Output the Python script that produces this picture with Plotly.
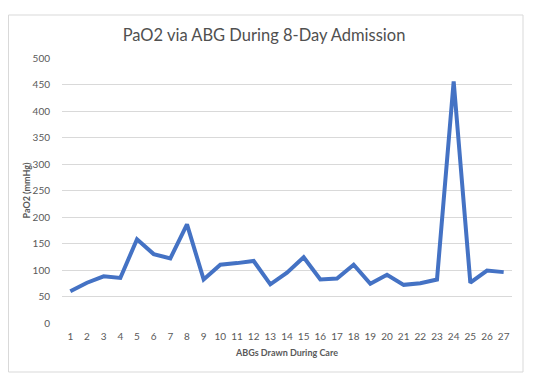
import plotly.graph_objects as go

abg_number = list(range(1, 28))
pao2_mmhg = [60, 76, 88, 85, 158, 130, 122, 186, 82, 110, 113, 117, 73,
             95, 124, 82, 84, 110, 74, 91, 72, 75, 82, 456, 76, 99, 96]
y_ticks = [0, 50, 100, 150, 200, 250, 300, 350, 400, 450, 500]

grey = "#595959"
grid = "#d9d9d9"
font_family = "Lato, Liberation Sans, Arial, sans-serif"

W, H = 528, 372
L, R, T, B = 54, 24, 50, 57
pw, ph = W - L - R, H - T - B

fig = go.Figure()
fig.add_trace(go.Scatter(
    x=abg_number, y=pao2_mmhg, mode="lines",
    line=dict(color="#4472C4", width=4),
    hoverinfo="x+y", showlegend=False,
))

fig.update_layout(
    width=W, height=H,
    margin=dict(l=L, r=R, t=T, b=B),
    paper_bgcolor="white", plot_bgcolor="white",
    font=dict(family=font_family, color=grey),
    title=dict(text="PaO2 via ABG During 8-Day Admission",
               x=256/W, xanchor="center", y=1 - 27/H, yanchor="middle",
               font=dict(size=16.5, color="#505050", family=font_family)),
    xaxis=dict(
        range=[0.5, 27.5], tickmode="array", tickvals=abg_number,
        ticktext=[str(v) for v in abg_number],
        showgrid=False, zeroline=False, showline=False,
        tickfont=dict(size=10, color=grey),
        ticklabelstandoff=6,
        title=dict(text="<b>ABGs Drawn During Care</b>", standoff=8,
                   font=dict(size=9, color=grey)),
        automargin=False,
    ),
    yaxis=dict(
        range=[0, 500], tickmode="array", tickvals=y_ticks,
        showgrid=True, gridcolor=grid, gridwidth=1,
        zeroline=False, showline=False,
        tickfont=dict(size=10, color=grey),
        ticklabelstandoff=11,
        title=dict(text="<b>PaO2 (mmHg)</b>", standoff=0,
                   font=dict(size=9, color=grey)),
        automargin=False,
    ),
    shapes=[dict(type="rect", xref="paper", yref="paper",
                 x0=(0.5 - L) / pw, x1=(515 - L) / pw,
                 y0=(H - B - 364) / ph, y1=(H - B - 7) / ph,
                 line=dict(color=grid, width=1), fillcolor="rgba(0,0,0,0)",
                 layer="below")],
)

fig.write_html("out.html")
